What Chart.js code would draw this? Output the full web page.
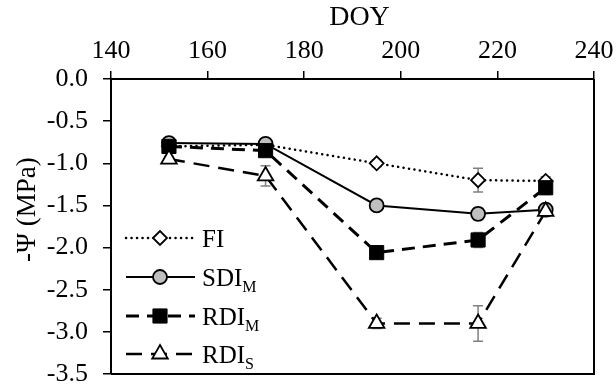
<!DOCTYPE html>
<html>
<head>
<meta charset="utf-8">
<script src="https://cdn.jsdelivr.net/npm/chart.js@4/dist/chart.umd.min.js"></script>
<style>
  html, body { margin: 0; padding: 0; background: #fff; }
  #wrap { width: 616px; height: 387px; }
</style>
</head>
<body>
<div id="wrap"><canvas id="c" width="616" height="387"></canvas></div>
<script>
// ---- data ----
const doy = [152, 172, 195, 216, 230];
const fi = [-0.80, -0.78, -1.00, -1.20, -1.21];
const sdiM = [-0.76, -0.77, -1.50, -1.60, -1.55];
const rdiM = [-0.80, -0.85, -2.06, -1.91, -1.29];
const rdiS = [-0.95, -1.15, -2.90, -2.90, -1.57];
const fiErr = [0.02, 0.02, 0.04, 0.14, 0.05];
const sdiMErr = [0.02, 0.02, 0.03, 0.07, 0.05];
const rdiMErr = [0.03, 0.03, 0.03, 0.09, 0.08];
const rdiSErr = [0.03, 0.12, 0.06, 0.21, 0.06];
const seriesNames = ['FI', 'SDI', 'RDI', 'RDI'];
const seriesSubs = ['', 'M', 'M', 'S'];
const xTitle = '\u00A0\u00A0DOY';
const yTitle = '\u00A0\u00A0\u00A0\u00A0\u00A0-\u03A8 (MPa)';

const FONT = "'Liberation Serif', 'Times New Roman', serif";

function pts(ys) { return doy.map((x, i) => ({ x: x, y: ys[i] })); }

const styles = [
  { color: '#000', width: 2.5, dash: [0.1, 5.4], cap: 'round', pointStyle: 'rectRot', r: 7, fill: '#fff', pw: 1.8 },
  { color: '#000', width: 2, dash: [], cap: 'butt', pointStyle: 'circle', r: 7, fill: '#bfbfbf', pw: 1.8 },
  { color: '#000', width: 3, dash: [13, 8], cap: 'butt', pointStyle: 'rect', r: 10, fill: '#000', pw: 1 },
  { color: '#000', width: 2.5, dash: [16, 9], cap: 'butt', pointStyle: 'triangle', r: 9, fill: '#fff', pw: 1.8 }
];
const seriesData = [fi, sdiM, rdiM, rdiS];
const seriesErr = [fiErr, sdiMErr, rdiMErr, rdiSErr];

const datasets = seriesData.map((d, i) => {
  const s = styles[i];
  return {
    label: seriesNames[i] + seriesSubs[i],
    data: pts(d),
    errors: seriesErr[i],
    borderColor: s.color,
    borderWidth: s.width,
    borderDash: s.dash,
    borderCapStyle: s.cap,
    pointStyle: s.pointStyle,
    pointRadius: s.r,
    pointHoverRadius: s.r,
    pointBackgroundColor: s.fill,
    pointBorderColor: '#000',
    pointBorderWidth: s.pw,
    showLine: true,
    tension: 0,
    fill: false,
    order: 4 - i
  };
});

const errorBars = {
  id: 'errorBars',
  beforeDatasetsDraw(chart) {
    const ctx = chart.ctx;
    const xs = chart.scales.x, ys = chart.scales.y;
    ctx.save();
    ctx.strokeStyle = '#808080';
    ctx.lineWidth = 1.5;
    ctx.setLineDash([]);
    chart.data.datasets.forEach(ds => {
      ds.data.forEach((p, i) => {
        const e = ds.errors[i];
        const px = xs.getPixelForValue(p.x);
        const y1 = ys.getPixelForValue(p.y + e);
        const y2 = ys.getPixelForValue(p.y - e);
        ctx.beginPath();
        ctx.moveTo(px, y1); ctx.lineTo(px, y2);
        ctx.moveTo(px - 5, y1); ctx.lineTo(px + 5, y1);
        ctx.moveTo(px - 5, y2); ctx.lineTo(px + 5, y2);
        ctx.stroke();
      });
    });
    ctx.restore();
  }
};

const frame = {
  id: 'frame',
  afterDraw(chart) {
    const a = chart.chartArea, ctx = chart.ctx;
    ctx.save();
    ctx.strokeStyle = '#000';
    ctx.lineWidth = 2;
    ctx.setLineDash([]);
    ctx.beginPath();
    ctx.moveTo(a.left, a.bottom); ctx.lineTo(a.right, a.bottom); ctx.lineTo(a.right, a.top);
    ctx.stroke();
    ctx.restore();
  }
};

const legendPlugin = {
  id: 'customLegend',
  afterDraw(chart) {
    const ctx = chart.ctx;
    const ys0 = [238, 277, 316, 354];
    const x1 = 126, x2 = 195, xm = 160, xt = 202;
    chart.data.datasets.forEach((ds, i) => {
      const y = ys0[i];
      ctx.save();
      ctx.strokeStyle = ds.borderColor;
      ctx.lineWidth = ds.borderWidth;
      ctx.setLineDash(ds.borderDash);
      ctx.lineCap = ds.borderCapStyle;
      ctx.beginPath();
      ctx.moveTo(x1, y); ctx.lineTo(x2, y);
      ctx.stroke();
      ctx.restore();
      ctx.save();
      ctx.fillStyle = ds.pointBackgroundColor;
      ctx.strokeStyle = ds.pointBorderColor;
      ctx.lineWidth = ds.pointBorderWidth;
      Chart.helpers.drawPoint(ctx, { pointStyle: ds.pointStyle, radius: ds.pointRadius, borderWidth: ds.pointBorderWidth, rotation: 0 }, xm, y);
      ctx.restore();
      ctx.save();
      ctx.fillStyle = '#000';
      ctx.textBaseline = 'alphabetic';
      ctx.textAlign = 'left';
      ctx.font = '25px ' + FONT;
      const base = y + 8.5;
      ctx.fillText(seriesNames[i], xt, base);
      const w = ctx.measureText(seriesNames[i]).width;
      if (seriesSubs[i]) {
        ctx.font = '16px ' + FONT;
        ctx.fillText(seriesSubs[i], xt + w, base + 6);
      }
      ctx.restore();
    });
  }
};

new Chart(document.getElementById('c'), {
  type: 'scatter',
  data: { datasets: datasets },
  options: {
    responsive: false,
    animation: false,
    devicePixelRatio: 1,
    layout: { padding: { left: 0, top: 0, right: 22, bottom: 13 } },
    plugins: { legend: { display: false }, tooltip: { enabled: false } },
    scales: {
      x: {
        type: 'linear', position: 'top', min: 140, max: 240,
        afterFit(s) { s.height = 79; s.paddingLeft = 0; s.paddingRight = 0; },
        ticks: { stepSize: 20, color: '#000', font: { family: FONT, size: 26 }, padding: 4, maxRotation: 0 },
        grid: { display: true, drawOnChartArea: false, drawTicks: true, tickLength: 8, color: '#000', lineWidth: 1.5 },
        border: { display: true, color: '#000', width: 2 },
        title: { display: true, text: xTitle, color: '#000', font: { family: FONT, size: 28 }, padding: { top: 1, bottom: 0 } }
      },
      y: {
        type: 'linear', position: 'left', min: -3.5, max: 0,
        afterFit(s) { s.width = 111; s.paddingTop = 0; s.paddingBottom = 0; },
        ticks: { stepSize: 0.5, color: '#000', font: { family: FONT, size: 26 }, padding: 15, callback: v => v.toFixed(1) },
        grid: { display: true, drawOnChartArea: false, drawTicks: true, tickLength: 8, color: '#000', lineWidth: 1.5 },
        border: { display: true, color: '#000', width: 2 },
        title: { display: true, text: yTitle, color: '#000', font: { family: FONT, size: 27 }, padding: { top: 12, bottom: 0 } }
      }
    }
  },
  plugins: [errorBars, frame, legendPlugin]
});
</script>
</body>
</html>
